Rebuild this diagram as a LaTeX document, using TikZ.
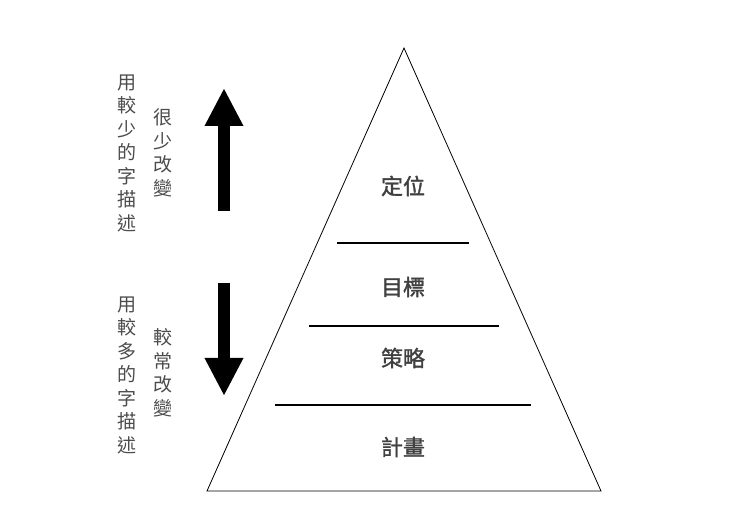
\documentclass[tikz,border=0pt]{standalone}
\usepackage{fontspec}
\newfontfamily\cjk{Noto Sans CJK TC}
\newfontfamily\cjkbold[FakeBold=1.5]{Noto Sans CJK TC}
\usetikzlibrary{arrows.meta}

\begin{document}
\begin{tikzpicture}[x=1pt,y=-1pt,
  level/.style={font=\cjkbold\fontsize{22}{26}\selectfont,text=black!75},
  side/.style={font=\cjk\fontsize{19}{23.5}\selectfont,text=black!70,align=center,inner sep=0pt},
  bigarrow/.style={line width=12pt,-{Triangle[width=36pt,length=38pt]}}]
\useasboundingbox (0,0) rectangle (740,526);
% Pyramid
\coordinate (top) at (404,48);
\coordinate (bl) at (207,491);
\coordinate (br) at (601,491);
\draw[line width=0.8pt] (top) -- (br) -- (bl) -- cycle;
% Dividing lines
\coordinate (d1l) at (337,243); \coordinate (d1r) at (469,243);
\coordinate (d2l) at (309,326); \coordinate (d2r) at (499,326);
\coordinate (d3l) at (275,405); \coordinate (d3r) at (531,405);
\draw[line width=2pt] (d1l) -- (d1r);
\draw[line width=2pt] (d2l) -- (d2r);
\draw[line width=2pt] (d3l) -- (d3r);
% Levels
\node[level] (pos) at (403,186) {定位};
\node[level] (goal) at (403,287) {目標};
\node[level] (strat) at (403,358) {策略};
\node[level] (plan) at (403,447) {計畫};
% Upper side texts and arrow
\node[side] (few) at (127,153) {用\\較\\少\\的\\字\\描\\述};
\node[side] (rare) at (163,153) {很\\少\\改\\變};
\coordinate (upa) at (224,211);
\coordinate (upb) at (224,88);
\draw[bigarrow] (upa) -- (upb);
% Lower side texts and arrow
\node[side] (many) at (127,375) {用\\較\\多\\的\\字\\描\\述};
\node[side] (often) at (163,373) {較\\常\\改\\變};
\coordinate (dna) at (224,283);
\coordinate (dnb) at (224,396);
\draw[bigarrow] (dna) -- (dnb);
\end{tikzpicture}
\end{document}
